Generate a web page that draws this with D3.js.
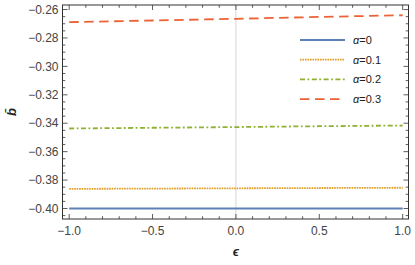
<!DOCTYPE html>
<html>
<head>
<meta charset="utf-8">
<script src="https://cdn.jsdelivr.net/npm/d3@7"></script>
<style>
  body { margin: 0; background: #fff; }
  text { font-family: 'Liberation Sans', Arial, sans-serif; }
</style>
</head>
<body>
<div id="view"></div>
<script>
'use strict';

// data
const epsValues = [-1, -0.5, 0, 0.5, 1];
const alphaLabels = ['0', '0.1', '0.2', '0.3'];
const bAlpha0 = [-0.4000, -0.4000, -0.4000, -0.4000, -0.4000];
const bAlpha01 = [-0.3862, -0.3860, -0.3858, -0.3856, -0.3854];
const bAlpha02 = [-0.3437, -0.3432, -0.3427, -0.3421, -0.3416];
const bAlpha03 = [-0.2689, -0.2677, -0.2665, -0.2652, -0.2640];
const xTickValues = [-1, -0.5, 0, 0.5, 1];
const yTickValues = [-0.40, -0.38, -0.36, -0.34, -0.32, -0.30, -0.28, -0.26];

const seriesList = [bAlpha0, bAlpha01, bAlpha02, bAlpha03];

const size = { w: 415, h: 265 };
const frame = { left: 62.5, right: 408.5, top: 5, bottom: 219 };

const presentation = {
  colors: ['#5E81B5', '#E19C24', '#8FB032', '#EB6235'],
  dashes: [null, '1.6,0.9', '5,2.5,1.8,2.5', '9.5,5.5'],
  widths: [1.8, 1.8, 1.8, 1.8],
  frame: '#333333',
  tickText: '#444444'
};

const x = d3.scaleLinear().domain([-1.04, 1.035]).range([frame.left, frame.right]);
const y = d3.scaleLinear().domain([-0.4074, -0.2568]).range([frame.bottom, frame.top]);

const svg = d3.select('#view').append('svg')
  .attr('width', size.w)
  .attr('height', size.h);

// grid line at eps = 0
svg.append('line')
  .attr('x1', x(0)).attr('x2', x(0))
  .attr('y1', frame.top).attr('y2', frame.bottom)
  .attr('stroke', '#cccccc')
  .attr('stroke-width', 0.8);

// curves
const line = d3.line()
  .x((d, i) => x(epsValues[i]))
  .y(d => y(d));

seriesList.forEach((series, i) => {
  svg.append('path')
    .datum(series)
    .attr('d', line)
    .attr('fill', 'none')
    .attr('stroke', presentation.colors[i])
    .attr('stroke-width', presentation.widths[i])
    .attr('stroke-dasharray', presentation.dashes[i]);
});

// frame
svg.append('rect')
  .attr('x', frame.left)
  .attr('y', frame.top)
  .attr('width', frame.right - frame.left)
  .attr('height', frame.bottom - frame.top)
  .attr('fill', 'none')
  .attr('stroke', presentation.frame)
  .attr('stroke-width', 1);

// ticks: majors and minors, pointing inside on all four sides
const xMinor = d3.range(-10, 11).map(k => k / 10).filter(v => !xTickValues.some(t => Math.abs(t - v) < 1e-9));
const yMinor = d3.range(-81, -51).map(k => k * 0.005).filter(v => v >= y.domain()[0] && v <= y.domain()[1])
  .filter(v => !yTickValues.some(t => Math.abs(t - v) < 1e-9));

function xTicks(values, len) {
  values.forEach(v => {
    svg.append('line')
      .attr('x1', x(v)).attr('x2', x(v))
      .attr('y1', frame.bottom).attr('y2', frame.bottom - len)
      .attr('stroke', presentation.frame).attr('stroke-width', 0.8);
    svg.append('line')
      .attr('x1', x(v)).attr('x2', x(v))
      .attr('y1', frame.top).attr('y2', frame.top + len)
      .attr('stroke', presentation.frame).attr('stroke-width', 0.8);
  });
}
function yTicks(values, len) {
  values.forEach(v => {
    svg.append('line')
      .attr('x1', frame.left).attr('x2', frame.left + len)
      .attr('y1', y(v)).attr('y2', y(v))
      .attr('stroke', presentation.frame).attr('stroke-width', 0.8);
    svg.append('line')
      .attr('x1', frame.right).attr('x2', frame.right - len)
      .attr('y1', y(v)).attr('y2', y(v))
      .attr('stroke', presentation.frame).attr('stroke-width', 0.8);
  });
}
xTicks(xTickValues, 5);
xTicks(xMinor, 2.8);
yTicks(yTickValues, 5);
yTicks(yMinor, 2.8);

// tick labels
const fmt = d3.format('.1f');
svg.append('g').selectAll('text')
  .data(xTickValues)
  .enter()
  .append('text')
  .attr('x', d => x(d))
  .attr('y', frame.bottom + 16)
  .attr('text-anchor', 'middle')
  .attr('font-size', 12)
  .attr('fill', presentation.tickText)
  .text(d => fmt(d).replace('-', '\u2212'));

svg.append('g').selectAll('text')
  .data(yTickValues)
  .enter()
  .append('text')
  .attr('x', frame.left - 4)
  .attr('y', d => y(d) + 4.2)
  .attr('text-anchor', 'end')
  .attr('font-size', 12)
  .attr('fill', presentation.tickText)
  .text(d => d3.format('.2f')(d).replace('-', '\u2212'));

// axis labels
svg.append('text')
  .attr('x', x(0))
  .attr('y', 256)
  .attr('text-anchor', 'middle')
  .attr('font-size', 13)
  .attr('font-weight', 'bold')
  .attr('font-style', 'italic')
  .attr('fill', '#222')
  .attr('font-family', "'DejaVu Serif', serif")
  .text('\u03F5');

svg.append('text')
  .attr('transform', `translate(16,${(frame.top + frame.bottom) / 2}) rotate(-90)`)
  .attr('text-anchor', 'middle')
  .attr('font-size', 13)
  .attr('font-weight', 'bold')
  .attr('font-style', 'italic')
  .attr('fill', '#222')
  .text('b\u0304');

// legend
const legend = { x1: 300, x2: 345, xText: 353, y0: 40, dy: 19.7 };
alphaLabels.forEach((label, i) => {
  const yy = legend.y0 + i * legend.dy;
  svg.append('line')
    .attr('x1', legend.x1).attr('x2', legend.x2)
    .attr('y1', yy).attr('y2', yy)
    .attr('stroke', presentation.colors[i])
    .attr('stroke-width', presentation.widths[i])
    .attr('stroke-dasharray', presentation.dashes[i]);
  const t = svg.append('text')
    .attr('x', legend.xText)
    .attr('y', yy + 4)
    .attr('font-size', 11)
    .attr('fill', '#222');
  t.append('tspan').attr('font-style', 'italic').text('\u03B1');
  t.append('tspan').text('=' + label);
});
</script>
</body>
</html>
